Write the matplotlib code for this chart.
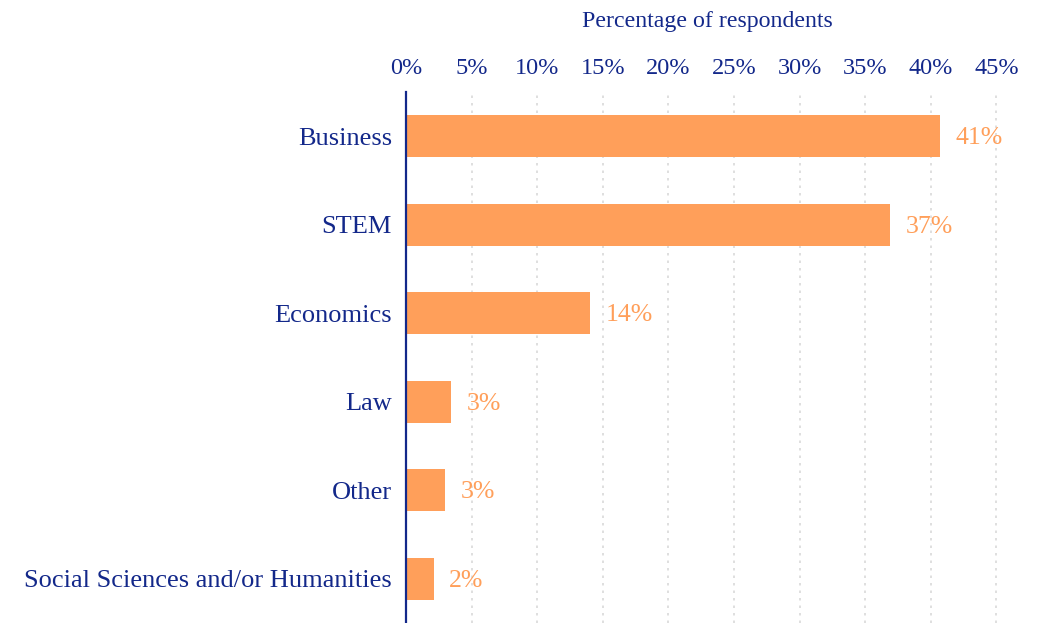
import matplotlib
matplotlib.use("Agg")
from matplotlib import pyplot as plt
from matplotlib.ticker import FuncFormatter

categories = ['Business', 'STEM', 'Economics', 'Law', 'Other', 'Social Sciences and/or Humanities']
values = [40.7, 36.9, 14.0, 3.4, 3.0, 2.1]
value_labels = ['41%', '37%', '14%', '3%', '3%', '2%']
xticks = [0, 5, 10, 15, 20, 25, 30, 35, 40, 45]

NAVY = '#13288a'
ORANGE = '#ff9f5a'

plt.rcParams['font.family'] = ['Liberation Serif', 'DejaVu Serif']

fig = plt.figure(figsize=(10.43, 6.23), dpi=100)
ax = fig.add_axes([406/1043, 0, 603.6/1043, (623-92)/623])

ypos = list(range(len(categories)))
ax.barh(ypos, values, height=0.47, color=ORANGE, zorder=3)
for y, v, lab in zip(ypos, values, value_labels):
    ax.text(v + 1.2, y + 0.02, lab, va='center', ha='left', color=ORANGE, fontsize=18.5)

ax.set_ylim(len(categories) - 0.5, -0.5)
ax.set_yticks(ypos)
ax.set_yticklabels(categories, fontsize=19, color=NAVY)
ax.set_xlim(0, 46)
ax.set_xticks(xticks)
ax.xaxis.set_major_formatter(FuncFormatter(lambda x, p: f'{int(round(x))}%'))
ax.xaxis.tick_top()
ax.xaxis.set_label_position('top')
ax.tick_params(axis='x', labelsize=17.5, labelcolor=NAVY, length=0, pad=9)
ax.tick_params(axis='y', length=0, pad=10)
ax.set_xlabel('Percentage of respondents', fontsize=17.2, color=NAVY, labelpad=23)

ax.grid(axis='x', linestyle=(0, (1.5, 3)), color='#d9d9d9', linewidth=1.2, zorder=0)
for s in ['top', 'right', 'bottom']:
    ax.spines[s].set_visible(False)
ax.spines['left'].set_color(NAVY)
ax.spines['left'].set_linewidth(1.6)
ax.spines['left'].set_zorder(4)

fig.savefig('out.png', dpi=100)
